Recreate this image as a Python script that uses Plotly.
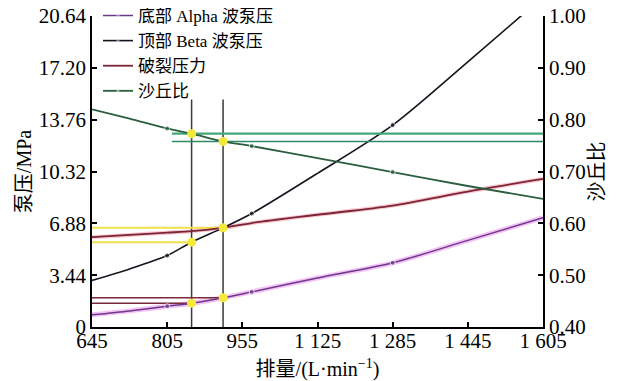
import plotly.graph_objects as go

# ---- data ----
flow = [645, 725, 805, 857, 924, 985, 1125, 1285, 1445, 1605]
alpha_p = [0.81, 1.07, 1.38, 1.58, 1.94, 2.33, 3.25, 4.26, 5.75, 7.25]
beta_p = [3.09, 3.85, 4.74, 5.63, 6.58, 7.53, 10.2, 13.4, 17.6, 21.9]
burst_p = [5.96, 6.11, 6.26, 6.36, 6.58, 6.90, 7.45, 8.06, 8.99, 9.83]
sand_r = [0.820, 0.802, 0.783, 0.773, 0.758, 0.749, 0.726, 0.699, 0.672, 0.647]
marker_idx = [2, 5, 7]          # points carrying a data marker

op_flow = [857, 924]            # operating-window flow rates (vertical guides)
op_idx = [3, 4]                 # their index in flow
guide_top = 15.1
sand_guide_start = 815

y_tick_vals = [0, 3.44, 6.88, 10.32, 13.76, 17.20, 20.64]
y_tick_text = ["0", "3.44", "6.88", "10.32", "13.76", "17.20", "20.64"]
x_tick_vals = [645, 805, 965, 1125, 1285, 1445, 1605]
x_tick_text = ["645", "805", "955", "1 125", "1 285", "1 445", "1 605"]
y2_tick_vals = [0.40, 0.50, 0.60, 0.70, 0.80, 0.90, 1.00]

names = ["底部 Alpha 波泵压", "顶部 Beta 波泵压", "破裂压力", "沙丘比"]

FONT = "Liberation Serif, Times New Roman, Noto Sans CJK SC, serif"
msize = [5 if i in marker_idx else 0 for i in range(len(flow))]

fig = go.Figure()

# halos
fig.add_trace(go.Scatter(x=flow, y=alpha_p, mode="lines", line=dict(color="rgba(236,120,236,0.45)", width=5, shape="spline", smoothing=0.8), showlegend=False, hoverinfo="skip"))
fig.add_trace(go.Scatter(x=flow, y=burst_p, mode="lines", line=dict(color="rgba(240,130,150,0.45)", width=4, shape="spline", smoothing=0.8), showlegend=False, hoverinfo="skip"))

# guide lines
vx, vy = [], []
for f in op_flow:
    vx += [f, f, None]
    vy += [0, guide_top, None]
fig.add_trace(go.Scatter(x=vx, y=vy, mode="lines", line=dict(color="#3a3a3a", width=1.5), showlegend=False, hoverinfo="skip"))

ax, ay = [], []
for f, i in zip(op_flow, op_idx):
    ax += [flow[0], f, None]
    ay += [alpha_p[i], alpha_p[i], None]
fig.add_trace(go.Scatter(x=ax, y=ay, mode="lines", line=dict(color="#7a2a3a", width=1.5), showlegend=False, hoverinfo="skip"))

bx, by = [], []
for f, i in zip(op_flow, op_idx):
    bx += [flow[0], f, None]
    by += [beta_p[i], beta_p[i], None]
fig.add_trace(go.Scatter(x=bx, y=by, mode="lines", line=dict(color="#f0e04a", width=2), showlegend=False, hoverinfo="skip"))

for i, col, w in zip(op_idx, ["#45a878", "#2e8a66"], [2.2, 1.5]):
    fig.add_trace(go.Scatter(x=[sand_guide_start, flow[-1]], y=[sand_r[i], sand_r[i]], mode="lines",
                             line=dict(color=col, width=w), yaxis="y2", showlegend=False, hoverinfo="skip"))

# main series
fig.add_trace(go.Scatter(x=flow, y=alpha_p, name=names[0], mode="lines+markers",
                         line=dict(color="#6a3a8a", width=1.5, shape="spline", smoothing=0.8),
                         marker=dict(size=msize, color="#6a3a8a")))
fig.add_trace(go.Scatter(x=flow, y=beta_p, name=names[1], mode="lines+markers",
                         line=dict(color="#15151f", width=1.6, shape="spline", smoothing=0.8),
                         marker=dict(size=msize, color="#15151f")))
fig.add_trace(go.Scatter(x=flow, y=burst_p, name=names[2], mode="lines",
                         line=dict(color="#7a2535", width=1.8, shape="spline", smoothing=0.8)))
fig.add_trace(go.Scatter(x=flow, y=sand_r, name=names[3], mode="lines+markers", yaxis="y2",
                         line=dict(color="#2a5e3e", width=1.8, shape="spline", smoothing=0.8),
                         marker=dict(size=msize, color="#2a5e3e")))

# operating points
yel = dict(size=9, color="#f5ea3a", line=dict(width=0))
fig.add_trace(go.Scatter(x=op_flow, y=[alpha_p[i] for i in op_idx], mode="markers", marker=yel, showlegend=False, hoverinfo="skip"))
fig.add_trace(go.Scatter(x=op_flow, y=[beta_p[i] for i in op_idx], mode="markers", marker=yel, showlegend=False, hoverinfo="skip"))
fig.add_trace(go.Scatter(x=op_flow, y=[sand_r[i] for i in op_idx], mode="markers", marker=yel, yaxis="y2", showlegend=False, hoverinfo="skip"))

axis_common = dict(showline=True, linecolor="black", linewidth=1.5, ticks="inside", ticklen=5,
                   tickwidth=1.5, tickcolor="black", showgrid=False, zeroline=False, automargin=False,
                   ticklabeloverflow="allow",
                   tickfont=dict(family=FONT, size=21, color="black"))

# the page body adds an 8 px offset, so the figure is 8 px smaller than the window
fig.update_layout(
    template="none",
    width=613, height=373,
    margin=dict(l=84, r=78, t=8, b=54, pad=0, autoexpand=False),
    paper_bgcolor="white", plot_bgcolor="white",
    font=dict(family=FONT, size=20, color="black"),
    xaxis=dict(range=[645, 1605], tickvals=x_tick_vals, ticktext=x_tick_text, ticklabelstandoff=-6,
               tickangle=0,
               title=dict(text="排量/(L·min<sup>−1</sup>)", standoff=10, font=dict(family=FONT, size=20)),
               **axis_common),
    yaxis=dict(range=[0, 20.64], tickvals=y_tick_vals, ticktext=y_tick_text,
               title=dict(text="泵压/MPa", standoff=2, font=dict(family=FONT, size=20)),
               **axis_common),
    yaxis2=dict(range=[0.40, 1.00], tickvals=y2_tick_vals, tickformat=".2f", overlaying="y", side="right",
                title=dict(text="沙丘比", standoff=0, font=dict(family=FONT, size=20)),
                **axis_common),
    legend=dict(x=0.0133, y=1.058, xanchor="left", yanchor="top", bgcolor="rgba(0,0,0,0)",
                font=dict(family=FONT, size=17, color="black"), itemwidth=30, tracegroupgap=0),
    showlegend=True,
)

fig.write_html("out.html")
